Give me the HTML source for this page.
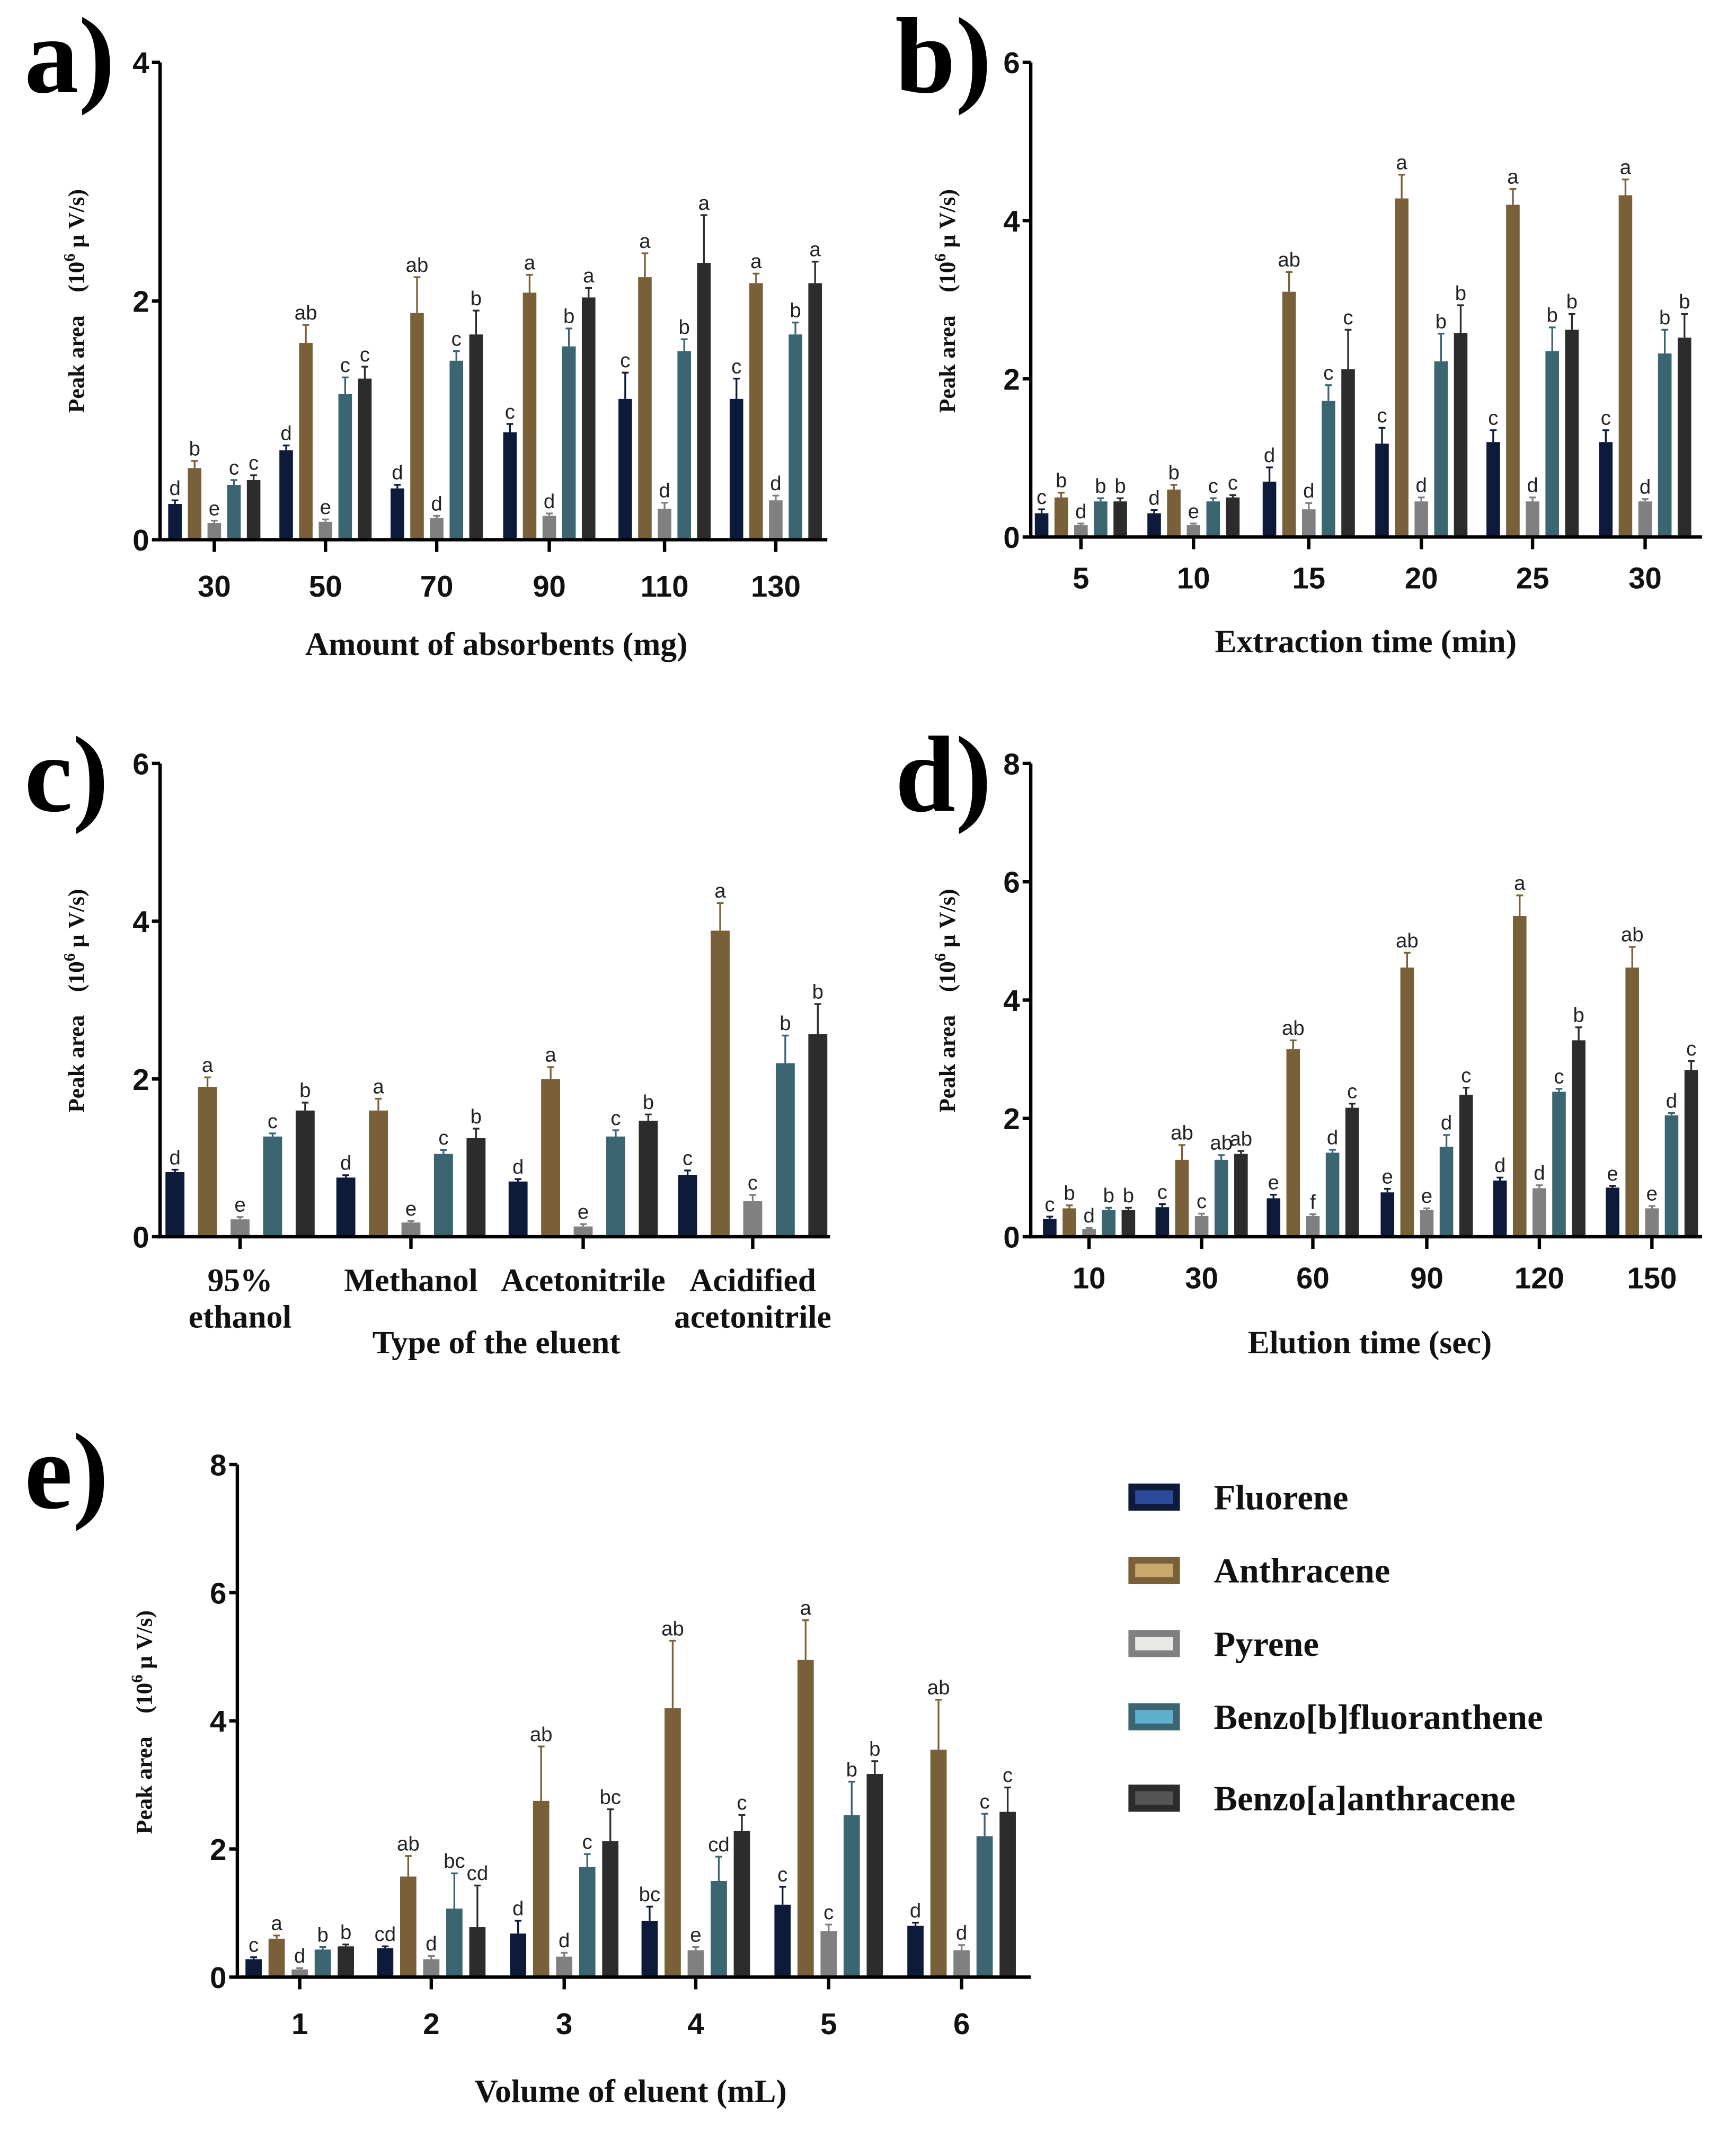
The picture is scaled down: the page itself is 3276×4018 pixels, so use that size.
<!DOCTYPE html>
<html><head><meta charset="utf-8"><style>
html,body{margin:0;padding:0;background:#fff}
svg{display:block}
.tk{font-family:"Liberation Sans",sans-serif;font-weight:bold;font-size:22px;fill:#111}
.lt{font-family:"Liberation Sans",sans-serif;font-size:15px;fill:#222}
.ti{font-family:"Liberation Serif",serif;font-weight:bold;font-size:24px;fill:#111}
.yl{font-family:"Liberation Serif",serif;font-weight:bold;font-size:17px;fill:#111}
.pl{font-family:"Liberation Serif",serif;font-weight:bold;font-size:80px;fill:#000}
.lg{font-family:"Liberation Serif",serif;font-weight:bold;font-size:26px;fill:#111}
</style></head><body>
<svg id="fig" width="3276" height="4018" viewBox="0 0 1280 1570" preserveAspectRatio="none" xmlns="http://www.w3.org/2000/svg"></svg>
<script>
const seriesNames=["Fluorene","Anthracene","Pyrene","Benzo[b]fluoranthene","Benzo[a]anthracene"];
const colors=["#0d1a3a","#7a6038","#808080","#3b6570","#2c2c2c"];
const swatchInner=["#2a4a9a","#c9a86c","#e8e8e4","#5fb0cc","#555555"];

const aCats=["30","50","70","90","110","130"];
const aVals=[[0.3,0.75,0.43,0.9,1.18,1.18],[0.6,1.65,1.9,2.07,2.2,2.15],[0.14,0.15,0.18,0.2,0.26,0.33],[0.46,1.22,1.5,1.62,1.58,1.72],[0.5,1.35,1.72,2.03,2.32,2.15]];
const aErr=[[0.03,0.04,0.03,0.07,0.22,0.17],[0.06,0.15,0.3,0.15,0.2,0.08],[0.02,0.02,0.02,0.02,0.05,0.04],[0.04,0.14,0.08,0.15,0.1,0.1],[0.04,0.1,0.2,0.08,0.4,0.18]];
const aLet=[["d","d","d","c","c","c"],["b","ab","ab","a","a","a"],["e","e","d","d","d","d"],["c","c","c","b","b","b"],["c","c","b","a","a","a"]];

const bCats=["5","10","15","20","25","30"];
const bVals=[[0.3,0.3,0.7,1.18,1.2,1.2],[0.5,0.6,3.1,4.28,4.2,4.32],[0.15,0.15,0.35,0.45,0.45,0.45],[0.45,0.45,1.72,2.22,2.35,2.32],[0.45,0.5,2.12,2.58,2.62,2.52]];
const bErr=[[0.05,0.04,0.18,0.2,0.15,0.15],[0.06,0.06,0.25,0.3,0.2,0.2],[0.02,0.02,0.08,0.05,0.05,0.03],[0.04,0.04,0.2,0.35,0.3,0.3],[0.04,0.03,0.5,0.35,0.2,0.3]];
const bLet=[["c","d","d","c","c","c"],["b","b","ab","a","a","a"],["d","e","d","d","d","d"],["b","c","c","b","b","b"],["b","c","c","b","b","b"]];

const cCats=[["95%","ethanol"],["Methanol"],["Acetonitrile"],["Acidified","acetonitrile"]];
const cVals=[[0.82,0.75,0.7,0.78],[1.9,1.6,2.0,3.88],[0.22,0.18,0.13,0.45],[1.27,1.05,1.27,2.2],[1.6,1.25,1.47,2.57]];
const cErr=[[0.03,0.03,0.03,0.06],[0.12,0.15,0.15,0.35],[0.03,0.02,0.03,0.08],[0.04,0.05,0.08,0.35],[0.1,0.12,0.08,0.38]];
const cLet=[["d","d","d","c"],["a","a","a","a"],["e","e","e","c"],["c","c","c","b"],["b","b","b","b"]];

const dCats=["10","30","60","90","120","150"];
const dVals=[[0.3,0.5,0.65,0.75,0.95,0.83],[0.48,1.3,3.17,4.55,5.42,4.55],[0.13,0.35,0.35,0.45,0.82,0.48],[0.45,1.3,1.42,1.52,2.45,2.05],[0.45,1.4,2.18,2.4,3.32,2.82]];
const dErr=[[0.04,0.05,0.06,0.06,0.05,0.03],[0.05,0.25,0.15,0.25,0.35,0.35],[0.02,0.04,0.03,0.03,0.05,0.04],[0.04,0.08,0.05,0.2,0.05,0.04],[0.04,0.05,0.07,0.12,0.22,0.15]];
const dLet=[["c","c","e","e","d","e"],["b","ab","ab","ab","a","ab"],["d","c","f","e","d","e"],["b","ab","d","d","c","d"],["b","ab","c","c","b","c"]];

const eCats=["1","2","3","4","5","6"];
const eVals=[[0.28,0.45,0.68,0.88,1.13,0.8],[0.6,1.57,2.75,4.2,4.95,3.55],[0.12,0.28,0.32,0.42,0.72,0.42],[0.43,1.07,1.72,1.5,2.53,2.2],[0.48,0.78,2.12,2.28,3.17,2.58]];
const eErr=[[0.03,0.03,0.2,0.22,0.28,0.05],[0.05,0.32,0.85,1.05,0.62,0.78],[0.02,0.05,0.06,0.05,0.1,0.08],[0.04,0.55,0.2,0.38,0.52,0.35],[0.03,0.65,0.5,0.25,0.2,0.38]];
const eLet=[["c","cd","d","bc","c","d"],["a","ab","ab","ab","a","ab"],["d","d","d","e","c","d"],["b","bc","c","cd","b","c"],["b","cd","bc","c","b","c"]];

const yTicksA=[0,2,4],yTicks6=[0,2,4,6],yTicks8=[0,2,4,6,8];

const svg=document.getElementById('fig');
const NS="http://www.w3.org/2000/svg";
function mk(tag,attrs,parent,text){const e=document.createElementNS(NS,tag);for(const k in attrs)e.setAttribute(k,attrs[k]);if(text!==undefined)e.textContent=text;(parent||svg).appendChild(e);return e;}

function panel(cfg){
  const g=mk('g',{});
  
  
  const {ax,top,zero,right,ymax,ticks,centers,step,bw,vals,err,lets,cats}=cfg;
  const y=v=>zero-(v/ymax)*(zero-top);
  const lab=mk('text',{x:cfg.lx,y:cfg.ly,class:'pl'},g,cfg.id+')');
  
  
  // bars
  for(let s=0;s<vals.length;s++){
    for(let i=0;i<centers.length;i++){
      const cx=centers[i]+(s-2)*step;
      const v=vals[s][i],e=err[s][i];
      const r=mk('rect',{x:cx-bw/2,y:y(v),width:bw,height:zero-y(v),fill:colors[s]},g);
      
      
      mk('line',{x1:cx,x2:cx,y1:y(v),y2:y(v+e),stroke:colors[s],'stroke-width':1.3},g);
      mk('line',{x1:cx-2.5,x2:cx+2.5,y1:y(v+e),y2:y(v+e),stroke:colors[s],'stroke-width':1.3},g);
      const t=mk('text',{x:cx,y:y(v+e)-4,class:'lt','text-anchor':'middle'},g,lets[s][i]);
      
      
    }
  }
  // axes
  const ya=mk('line',{x1:ax,x2:ax,y1:top,y2:zero+1,stroke:'#000','stroke-width':2.5},g);
  
  const xa=mk('line',{x1:ax-1,x2:right,y1:zero,y2:zero,stroke:'#000','stroke-width':2.5},g);
  
  for(const t of ticks){
    mk('line',{x1:ax-6,x2:ax,y1:y(t),y2:y(t),stroke:'#000','stroke-width':2.5},g);
    const tl=mk('text',{x:ax-8,y:y(t)+8,class:'tk','text-anchor':'end'},g,String(t));
    
  }
  centers.forEach((c,i)=>{
    mk('line',{x1:c,x2:c,y1:zero,y2:zero+9,stroke:'#000','stroke-width':2.5},g);
    const lines=Array.isArray(cats[i])?cats[i]:[cats[i]];
    lines.forEach((ln,j)=>{
      const tl=mk('text',{x:c,y:zero+cfg.catDy+j*27,class:cfg.catCls,'text-anchor':'middle'},g,ln);
      
    });
  });
  const xt=mk('text',{x:cfg.tx,y:cfg.ty,class:'ti','text-anchor':'middle'},g,cfg.title);
  
  const yl=mk('text',{x:0,y:0,class:'yl','text-anchor':'middle',transform:`translate(${cfg.ylx},${cfg.yly}) rotate(-90)`},g);
  
  mk('tspan',{},yl,'Peak area\u00a0\u00a0\u00a0\u00a0(10');
  mk('tspan',{dy:-7,'font-size':12},yl,'6');
  mk('tspan',{dy:7},yl,' \u03bc V/s)');
}

panel({id:'a',lx:18,ly:68,ax:118,top:46,zero:398,right:610,ymax:4,ticks:yTicksA,centers:[158,240,322,405,490,572],step:14.5,bw:10,vals:aVals,err:aErr,lets:aLet,cats:aCats,catDy:42,catCls:'tk',tx:366,ty:483,title:'Amount of absorbents (mg)',ylx:62,yly:222});
panel({id:'b',lx:660,ly:68,ax:760,top:46,zero:396,right:1255,ymax:6,ticks:yTicks6,centers:[797,880,965,1048,1130,1213],step:14.5,bw:10,vals:bVals,err:bErr,lets:bLet,cats:bCats,catDy:38,catCls:'tk',tx:1007,ty:481,title:'Extraction time (min)',ylx:704,yly:222});
panel({id:'c',lx:18,ly:598,ax:118,top:563,zero:912,right:612,ymax:6,ticks:yTicks6,centers:[177,303,430,555],step:24,bw:14,vals:cVals,err:cErr,lets:cLet,cats:cCats,catDy:40,catCls:'ti',tx:366,ty:998,title:'Type of the eluent',ylx:62,yly:738});
panel({id:'d',lx:660,ly:598,ax:760,top:563,zero:912,right:1255,ymax:8,ticks:yTicks8,centers:[803,886,968,1052,1135,1218],step:14.5,bw:10,vals:dVals,err:dErr,lets:dLet,cats:dCats,catDy:38,catCls:'tk',tx:1010,ty:998,title:'Elution time (sec)',ylx:704,yly:738});
panel({id:'e',lx:18,ly:1112,ax:175,top:1080,zero:1458,right:760,ymax:8,ticks:yTicks8,centers:[221,318,416,513,611,709],step:17,bw:12,vals:eVals,err:eErr,lets:eLet,cats:eCats,catDy:42,catCls:'tk',tx:465,ty:1550,title:'Volume of eluent  (mL)',ylx:112,yly:1270});

// legend
const lg=mk('g',{});


const legY=[1104,1158,1212,1266,1326];
seriesNames.forEach((n,i)=>{
  const en=mk('g',{},lg);
  
  
  mk('rect',{x:832,y:legY[i]-10,width:38,height:20,fill:colors[i]},en);
  mk('rect',{x:837,y:legY[i]-5,width:28,height:10,fill:swatchInner[i]},en);
  mk('text',{x:895,y:legY[i]+9,class:'lg'},en,n);
});
</script>
</body></html>
